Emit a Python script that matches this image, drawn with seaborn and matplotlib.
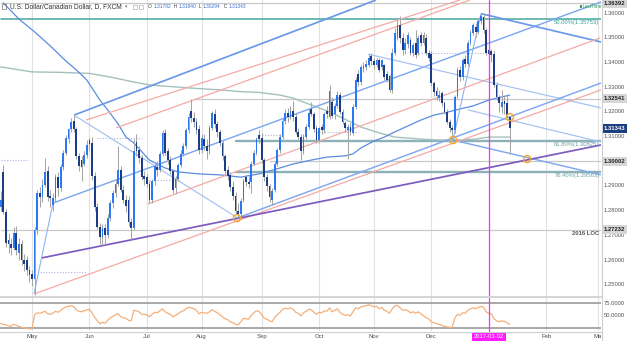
import numpy as np
import pandas as pd
import matplotlib
matplotlib.use("Agg")
import matplotlib.pyplot as plt
import matplotlib.transforms as mtransforms
import seaborn as sns

sns.set_theme(style="white")
plt.rcParams["font.family"] = ["Liberation Sans", "DejaVu Sans"]

symbol_title = "U.S. Dollar/Canadian Dollar, D, FXCM"
first_session = "2016-04-14"

# ---- daily OHLC, one weekday bar each, 2016-04-14 .. 2017-01-12 ----
opens = [
    1.2815, 1.2955, 1.2795, 1.2680, 1.2665, 1.2650, 1.2710, 1.2630, 1.2665, 1.2600,
    1.2600, 1.2560, 1.2545, 1.2525, 1.2720, 1.2870, 1.2855, 1.2905, 1.2960, 1.2860,
    1.2825, 1.2850, 1.2935, 1.2890, 1.2975, 1.3035, 1.3090, 1.3130, 1.3165, 1.3130,
    1.3020, 1.3005, 1.2990, 1.3025, 1.3085, 1.3075, 1.2940, 1.2815, 1.2735, 1.2695,
    1.2730, 1.2700, 1.2770, 1.2830, 1.2870, 1.2910, 1.2965, 1.2885, 1.2845, 1.2845,
    1.2755, 1.2730, 1.3080, 1.3045, 1.3015, 1.2940, 1.2935, 1.2910, 1.2845, 1.2920,
    1.2975, 1.2965, 1.3030, 1.3115, 1.3040, 1.3005, 1.2960, 1.2890, 1.2930, 1.2985,
    1.3030, 1.3060, 1.3125, 1.3205, 1.3175, 1.3160, 1.3130, 1.3045, 1.3090, 1.3060,
    1.3040, 1.3135, 1.3190, 1.3150, 1.3120, 1.3075, 1.3020, 1.2965, 1.2945, 1.2895,
    1.2860, 1.2800, 1.2785, 1.2845, 1.2935, 1.2915, 1.2915, 1.2990, 1.3035, 1.3105,
    1.3095, 1.3005, 1.2935, 1.2900, 1.2845, 1.2885, 1.2990, 1.3045, 1.3100, 1.3165,
    1.3195, 1.3180, 1.3205, 1.3180, 1.3120, 1.3100, 1.3040, 1.3100, 1.3140, 1.3210,
    1.3190, 1.3135, 1.3085, 1.3140, 1.3125, 1.3205, 1.3180, 1.3240, 1.3190, 1.3225,
    1.3270, 1.3200, 1.3155, 1.3125, 1.3140, 1.3115, 1.3220, 1.3355, 1.3320, 1.3375,
    1.3380, 1.3390, 1.3425, 1.3405, 1.3390, 1.3410, 1.3380, 1.3390, 1.3355, 1.3345,
    1.3290, 1.3440, 1.3500, 1.3550, 1.3500, 1.3450, 1.3475, 1.3490, 1.3440, 1.3480,
    1.3440, 1.3510, 1.3480, 1.3500, 1.3440, 1.3435, 1.3315, 1.3285, 1.3255, 1.3275,
    1.3235, 1.3200, 1.3160, 1.3135, 1.3125, 1.3265, 1.3370, 1.3340, 1.3415, 1.3395,
    1.3480, 1.3520, 1.3545, 1.3525, 1.3570, 1.3585, 1.3530, 1.3450, 1.3445, 1.3435,
    1.3310, 1.3260, 1.3220, 1.3245, 1.3235, 1.31782,
]
highs = [
    1.2880, 1.2985, 1.2805, 1.2710, 1.2690, 1.2735, 1.2740, 1.2690, 1.2680, 1.2625,
    1.2615, 1.2575, 1.2560, 1.2735, 1.2885, 1.2895, 1.2930, 1.3015, 1.2980, 1.2885,
    1.2870, 1.2950, 1.2955, 1.2990, 1.3045, 1.3105, 1.3135, 1.3175, 1.3188, 1.3140,
    1.3035, 1.3020, 1.3040, 1.3085, 1.3095, 1.3100, 1.2955, 1.2830, 1.2750, 1.2745,
    1.2745, 1.2785, 1.2845, 1.2885, 1.2925, 1.3060, 1.2980, 1.2905, 1.2865, 1.2860,
    1.2770, 1.3090, 1.3110, 1.3060, 1.3025, 1.2960, 1.2950, 1.2920, 1.2930, 1.2995,
    1.3000, 1.3040, 1.3125, 1.3130, 1.3055, 1.3020, 1.2970, 1.2940, 1.2995, 1.3045,
    1.3075, 1.3135, 1.3195, 1.3252, 1.3200, 1.3175, 1.3145, 1.3110, 1.3110, 1.3090,
    1.3145, 1.3205, 1.3210, 1.3165, 1.3130, 1.3085, 1.3030, 1.2980, 1.2955, 1.2920,
    1.2875, 1.2830, 1.2850, 1.2930, 1.2945, 1.2940, 1.3000, 1.3045, 1.3100, 1.3125,
    1.3115, 1.3015, 1.2950, 1.2910, 1.2890, 1.3000, 1.3055, 1.3110, 1.3175, 1.3210,
    1.3215, 1.3225, 1.3245, 1.3195, 1.3135, 1.3110, 1.3110, 1.3150, 1.3210, 1.3240,
    1.3200, 1.3145, 1.3140, 1.3150, 1.3200, 1.3225, 1.3310, 1.3260, 1.3235, 1.3285,
    1.3280, 1.3210, 1.3165, 1.3150, 1.3155, 1.3230, 1.3340, 1.3370, 1.3390, 1.3400,
    1.3410, 1.3435, 1.3440, 1.3420, 1.3420, 1.3420, 1.3415, 1.3395, 1.3365, 1.3355,
    1.3460, 1.3540, 1.3575, 1.3588, 1.3520, 1.3500, 1.3525, 1.3505, 1.3480, 1.3530,
    1.3510, 1.3525, 1.3525, 1.3515, 1.3450, 1.3445, 1.3325, 1.3300, 1.3290, 1.3285,
    1.3245, 1.3210, 1.3170, 1.3145, 1.3270, 1.3380, 1.3385, 1.3420, 1.3430, 1.3490,
    1.3530, 1.3560, 1.3560, 1.3580, 1.3599, 1.3598, 1.3540, 1.3460, 1.3455, 1.3450,
    1.3320, 1.3270, 1.3290, 1.3265, 1.3270, 1.31840,
]
lows = [
    1.2800, 1.2785, 1.2655, 1.2630, 1.2620, 1.2640, 1.2620, 1.2600, 1.2580, 1.2555,
    1.2540, 1.2510, 1.2495, 1.2460, 1.2705, 1.2815, 1.2835, 1.2895, 1.2840, 1.2815,
    1.2800, 1.2840, 1.2860, 1.2880, 1.2965, 1.3025, 1.3075, 1.3120, 1.3120, 1.3010,
    1.2960, 1.2920, 1.2980, 1.3015, 1.3045, 1.2925, 1.2800, 1.2725, 1.2665, 1.2660,
    1.2660, 1.2690, 1.2760, 1.2810, 1.2855, 1.2900, 1.2875, 1.2830, 1.2795, 1.2740,
    1.2685, 1.2720, 1.3020, 1.2995, 1.2925, 1.2905, 1.2895, 1.2830, 1.2830, 1.2905,
    1.2940, 1.2955, 1.3020, 1.3025, 1.2990, 1.2950, 1.2870, 1.2870, 1.2920, 1.2975,
    1.3020, 1.3050, 1.3115, 1.3160, 1.3140, 1.3110, 1.3030, 1.3035, 1.3045, 1.3010,
    1.3030, 1.3125, 1.3135, 1.3100, 1.3060, 1.3005, 1.2945, 1.2925, 1.2880, 1.2845,
    1.2785, 1.2770, 1.2775, 1.2835, 1.2900, 1.2890, 1.2870, 1.2985, 1.3025, 1.3075,
    1.2995, 1.2920, 1.2880, 1.2835, 1.2823, 1.2875, 1.2980, 1.3035, 1.3090, 1.3150,
    1.3160, 1.3170, 1.3165, 1.3110, 1.3085, 1.3005, 1.3030, 1.3090, 1.3130, 1.3185,
    1.3120, 1.3075, 1.3075, 1.3110, 1.3115, 1.3175, 1.3170, 1.3175, 1.3170, 1.3215,
    1.3190, 1.3150, 1.3120, 1.3010, 1.3105, 1.3105, 1.3210, 1.3305, 1.3310, 1.3360,
    1.3370, 1.3380, 1.3390, 1.3375, 1.3380, 1.3360, 1.3370, 1.3330, 1.3320, 1.3280,
    1.3275, 1.3430, 1.3490, 1.3480, 1.3430, 1.3435, 1.3460, 1.3430, 1.3425, 1.3420,
    1.3430, 1.3465, 1.3470, 1.3430, 1.3405, 1.3305, 1.3265, 1.3250, 1.3245, 1.3225,
    1.3190, 1.3150, 1.3120, 1.3085, 1.3115, 1.3255, 1.3325, 1.3330, 1.3380, 1.3385,
    1.3470, 1.3510, 1.3505, 1.3515, 1.3555, 1.3520, 1.3430, 1.3420, 1.3400, 1.3300,
    1.3250, 1.3200, 1.3195, 1.3190, 1.3175, 1.30294,
]
closes = [
    1.2845, 1.2795, 1.2670, 1.2665, 1.2650, 1.2710, 1.2640, 1.2665, 1.2600, 1.2585,
    1.2560, 1.2540, 1.2525, 1.2720, 1.2870, 1.2855, 1.2905, 1.2955, 1.2855, 1.2850,
    1.2850, 1.2935, 1.2890, 1.2975, 1.3035, 1.3095, 1.3130, 1.3160, 1.3130, 1.3020,
    1.2980, 1.2975, 1.3025, 1.3065, 1.3070, 1.2940, 1.2815, 1.2735, 1.2695, 1.2730,
    1.2700, 1.2770, 1.2830, 1.2870, 1.2910, 1.2965, 1.2885, 1.2845, 1.2820, 1.2755,
    1.2730, 1.3040, 1.3040, 1.3015, 1.2935, 1.2930, 1.2910, 1.2845, 1.2920, 1.2980,
    1.2965, 1.3030, 1.3115, 1.3035, 1.3005, 1.2960, 1.2885, 1.2930, 1.2985, 1.3030,
    1.3060, 1.3125, 1.3180, 1.3175, 1.3160, 1.3125, 1.3045, 1.3095, 1.3060, 1.3040,
    1.3135, 1.3195, 1.3150, 1.3120, 1.3075, 1.3020, 1.2960, 1.2940, 1.2895, 1.2860,
    1.2800, 1.2785, 1.2840, 1.2920, 1.2915, 1.2910, 1.2990, 1.3035, 1.3090, 1.3090,
    1.3005, 1.2935, 1.2900, 1.2855, 1.2880, 1.2990, 1.3045, 1.3100, 1.3165, 1.3195,
    1.3180, 1.3205, 1.3180, 1.3120, 1.3100, 1.3040, 1.3100, 1.3140, 1.3195, 1.3190,
    1.3130, 1.3085, 1.3135, 1.3125, 1.3190, 1.3190, 1.3285, 1.3185, 1.3225, 1.3270,
    1.3200, 1.3160, 1.3135, 1.3140, 1.3120, 1.3220, 1.3330, 1.3320, 1.3380, 1.3385,
    1.3395, 1.3420, 1.3405, 1.3390, 1.3410, 1.3370, 1.3410, 1.3340, 1.3330, 1.3290,
    1.3440, 1.3520, 1.3550, 1.3500, 1.3450, 1.3480, 1.3510, 1.3440, 1.3470, 1.3430,
    1.3500, 1.3480, 1.3510, 1.3440, 1.3420, 1.3315, 1.3280, 1.3265, 1.3270, 1.3235,
    1.3200, 1.3160, 1.3135, 1.3125, 1.3260, 1.3370, 1.3340, 1.3410, 1.3395, 1.3480,
    1.3520, 1.3550, 1.3525, 1.3570, 1.3590, 1.3530, 1.3440, 1.3435, 1.3430, 1.3310,
    1.3260, 1.3235, 1.3240, 1.3230, 1.3187, 1.31343,
]
rsi_values = [
    35, 33, 32, 30, 29, 33, 31, 29, 27, 26,
    25, 24, 24, 52, 56, 55, 57, 59, 54, 53,
    55, 59, 57, 61, 65, 68, 69, 70, 68, 62,
    59, 58, 60, 62, 63, 56, 47, 40, 34, 37,
    35, 41, 46, 49, 52, 54, 48, 46, 45, 41,
    40, 61, 60, 58, 53, 53, 52, 48, 53, 57,
    56, 60, 64, 58, 55, 53, 48, 51, 54, 58,
    60, 64, 67, 66, 64, 61, 54, 57, 56, 55,
    58, 62, 59, 56, 52, 48, 44, 42, 38, 36,
    33, 32, 38, 45, 44, 43, 51, 56, 60, 59,
    52, 45, 43, 40, 38, 47, 52, 57, 63, 65,
    64, 66, 63, 57, 55, 50, 56, 59, 63, 62,
    57, 53, 57, 56, 60, 59, 66, 58, 61, 64,
    57, 53, 51, 52, 50, 58, 66, 64, 68, 69,
    70, 72, 70, 68, 69, 64, 67, 61, 59, 55,
    64, 70, 71, 66, 61, 62, 60, 56, 58, 55,
    58, 54, 50, 46, 44, 38, 36, 34, 33, 31,
    29, 28, 27, 27, 45, 53, 51, 56, 55, 61,
    64, 66, 64, 67, 69, 67, 58, 55, 54, 44,
    40, 38, 40, 39, 36, 33,
]

# moving averages read at selected bars (bar number, price)
sma100_bars = [1, 7, 13, 19, 25, 29, 33, 38, 41, 45, 48, 51, 57, 63, 68, 76, 84, 92,
               99, 107, 112, 119, 125, 132, 135, 138, 143, 147, 151, 156, 161, 166,
               170, 176, 181, 187, 195]
sma100_vals = [1.3641, 1.3576, 1.3524, 1.3467, 1.3406, 1.3370, 1.3329, 1.3248, 1.3208,
               1.3151, 1.3098, 1.3074, 1.3005, 1.2973, 1.2957, 1.2949, 1.2945, 1.2936,
               1.2949, 1.2973, 1.2989, 1.3005, 1.3017, 1.3022, 1.3030, 1.3054, 1.3082,
               1.3098, 1.3119, 1.3143, 1.3167, 1.3187, 1.3196, 1.3212, 1.3224, 1.3248,
               1.3268]
sma200_bars = [0, 12, 23, 34, 42, 51, 57, 67, 75, 84, 92, 99, 107, 112, 119, 125, 131,
               138, 145, 151, 161, 168, 175, 182, 187, 195]
sma200_vals = [1.3382, 1.3362, 1.3360, 1.3356, 1.3341, 1.3321, 1.3309, 1.3301, 1.3295,
               1.3289, 1.3282, 1.3279, 1.3268, 1.3256, 1.3228, 1.3204, 1.3175, 1.3139,
               1.3115, 1.3098, 1.3090, 1.3086, 1.3086, 1.3090, 1.3098, 1.3098]

# drawn trend lines: (bar0, price0, bar1, price1, style)
trend_lines = [
    (28.1, 1.3187, 143.8, 1.3653, "blue"),
    (20.05, 1.2831, 230.0, 1.3645, "blue2"),
    (12.77, 1.2463, 20.05, 1.2831, "thin"),
    (28.1, 1.3187, 90.9, 1.2770, "light"),
    (184.0, 1.3598, 230.0, 1.3483, "blue"),
    (140.7, 1.3434, 230.0, 1.3216, "light"),
    (173.3, 1.3086, 230.0, 1.2945, "blue2"),
    (179.0, 1.3208, 230.0, 1.3078, "light"),
    (90.5, 1.2770, 230.0, 1.3317, "blue2"),
    (173.3, 1.3086, 184.0, 1.3598, "thin"),
    (12.77, 1.2463, 230.0, 1.3289, "pink"),
    (32.7, 1.3167, 176.0, 1.3653, "pink"),
    (44.2, 1.3135, 179.8, 1.3653, "pink"),
    (56.4, 1.2827, 229.6, 1.3499, "pink"),
    (15.8, 1.2609, 230.0, 1.3066, "purple"),
]
line_styles = {
    "blue": ("#6a9ae8", 1.25), "blue2": ("#7ea8ef", 1.05), "light": ("#a7c3f2", 0.9),
    "thin": ("#8fb3f0", 0.8), "pink": ("#f4aaa5", 0.9), "purple": ("#7d5bbf", 1.25),
}

# pivot marks (dotted)
pivot_marks = [(0, 11, 1.3005), (15, 33, 1.2552), (37, 54, 1.3094), (57, 67, 1.2924),
               (99, 107, 1.3107), (121, 137, 1.3119), (158, 187, 1.3439)]

fib_names = ["50.00%", "61.80%", "76.40%"]
fib_prices = [1.35753, 1.30825, 1.29563]
fib_start = [0, 90.2, 90.2]
level_prices = [1.36392, 1.32541, 1.30002, 1.27232]
level_start = [0, 74.0, 103.0, 0]
loc_label = "2016 LOC"
touch_bars = [90.5, 173.3, 195.1, 201.7]
touch_prices = [1.2770, 1.3086, 1.3179, 1.3009]

W, H = 627, 341
fig = plt.figure(figsize=(W / 100, H / 100), dpi=100)
fig.patch.set_facecolor("white")


def fx(px):
    return px / W


def fy(py):
    return 1 - py / H


plot_w = 601 / W
ax = fig.add_axes([0, fy(295.5), plot_w, 295.5 / H])
ax2 = fig.add_axes([0, fy(331), plot_w, 33.3 / H])
ax3 = fig.add_axes([0, 0, plot_w, 10 / H])
XLIM = (-0.26, 230.0)
for a in (ax, ax2, ax3):
    a.set_xlim(*XLIM)
    a.set_axis_off()
ax.set_ylim(1.24567, 1.36530)
ax2.set_ylim(19.6, 86.2)
ax3.set_ylim(0, 1)

n = len(closes)
assert len(opens) == len(highs) == len(lows) == n == len(rsi_values)
bars = np.arange(n)
dates = pd.bdate_range(first_session, periods=240)
month_pos = [k for k in range(1, 231) if dates[k].month != dates[k - 1].month]
mark_day = [k for k in month_pos if dates[k].month == 1][0]

# month grid
for k in month_pos:
    if k == mark_day:
        continue
    ax.axvline(k, color="#e2e2e2", lw=0.8, zorder=0)
    ax2.axvline(k, color="#e2e2e2", lw=0.8, zorder=0)

# horizontal levels
for p, s in zip(level_prices, level_start):
    ax.plot([s, 230], [p, p], color="#c8c8c8", lw=0.9, zorder=1)
ax.plot([fib_start[0], 230], [fib_prices[0]] * 2, color="#44a89f", lw=1.1, zorder=2)
for p, s in zip(fib_prices[1:], fib_start[1:]):
    ax.plot([s, 230], [p, p], color="#8eb1b7", lw=1.7, zorder=2)

for b0, b1, p in pivot_marks:
    ax.plot([b0, b1], [p, p], color="#b7abdd", lw=0.8, ls=(0, (1, 1.5)), zorder=1)

# moving averages
sns.lineplot(x=sma200_bars, y=sma200_vals, ax=ax, color="#a3c1bc", lw=1.0,
             errorbar=None, legend=False, zorder=2)
sns.lineplot(x=sma100_bars, y=sma100_vals, ax=ax, color="#5a8ce0", lw=0.9,
             errorbar=None, legend=False, zorder=2)

# trend lines
for b0, p0, b1, p1, st in trend_lines:
    col, lw = line_styles[st]
    ax.plot([b0, b1], [p0, p1], color=col, lw=lw, zorder=2, solid_capstyle="butt")

# candles
o = np.array(opens); h = np.array(highs); l = np.array(lows); c = np.array(closes)
up = c >= o
body_lo = np.minimum(o, c)
body_h = np.maximum(np.abs(c - o), 0.0002)
ax.vlines(bars, l, h, color="#a6a6a6", lw=0.75, zorder=3)
ax.bar(bars[up], body_h[up], bottom=body_lo[up], width=0.68, color="#2a79f2",
       linewidth=0, zorder=4)
ax.bar(bars[~up], body_h[~up], bottom=body_lo[~up], width=0.68, color="#1c3c85",
       linewidth=0, zorder=4)

ax.scatter(touch_bars, touch_prices, s=26, facecolors="none", edgecolors="#f5a629",
           linewidths=1.0, zorder=6)

# vertical marker on first session of the year
for a in (ax, ax2, ax3):
    a.axvline(mark_day, color="#ff2bff", lw=0.9, zorder=5)

# fib / level labels
lab_kw = dict(ha="right", va="top", fontsize=4.2, zorder=7)
ax.text(229.4, fib_prices[0] - 0.0003, f"{fib_names[0]}({fib_prices[0]:.5f})",
        color="#3aa197", **lab_kw)
for nm, p in zip(fib_names[1:], fib_prices[1:]):
    ax.text(229.4, p - 0.0003, f"{nm}({p:.5f})", color="#6f9da4", **lab_kw)
ax.text(229.4, level_prices[3] - 0.0004, loc_label, color="#555555",
        fontweight="bold", **lab_kw)

# RSI panel
sns.lineplot(x=bars, y=rsi_values, ax=ax2, color="#f4b07a", lw=0.9,
             errorbar=None, legend=False, zorder=3)
for v in (75, 25):
    ax2.axhline(v, color="#9b9b9b", lw=1.2, zorder=2)

# price scale
tr = mtransforms.blended_transform_factory(fig.transFigure, ax.transData)
tr2 = mtransforms.blended_transform_factory(fig.transFigure, ax2.transData)
for p in np.arange(1.25, 1.3651, 0.01):
    if abs(p - 1.30) < 1e-6:
        continue
    ax.text(fx(604), p, f"{p:.5f}", transform=tr, fontsize=4.2, color="#555555",
            va="center", ha="left", clip_on=False)
for p in level_prices:
    ax.text(fx(604), p, f"{p:.5f}", transform=tr, fontsize=4.2, color="#222222",
            fontweight="bold", va="center", ha="left", clip_on=False, zorder=8,
            bbox=dict(boxstyle="square,pad=0.35", fc="#d6d6d6", ec="none"))
ax.text(fx(604), closes[-1], f"{closes[-1]:.5f}", transform=tr, fontsize=4.2,
        color="white", fontweight="bold", va="center", ha="left", clip_on=False,
        zorder=8, bbox=dict(boxstyle="square,pad=0.35", fc="#1d3e7e", ec="none"))
for v in (75, 50):
    ax2.text(fx(604), v, f"{v:.4f}", transform=tr2, fontsize=4.2, color="#555555",
             va="center", ha="left", clip_on=False)

# time scale
for k in month_pos:
    if k == mark_day:
        ax3.text(k, 0.42, dates[k].strftime("%Y-%m-%d"), ha="center", va="center",
                 fontsize=4.2, color="white", zorder=8,
                 bbox=dict(boxstyle="square,pad=0.3", fc="#ff1aff", ec="none"))
    else:
        ax3.text(k, 0.42, dates[k].strftime("%b"), ha="center", va="center",
                 fontsize=4.3, color="#4d4d4d", clip_on=True)

# frame lines
fig.add_artist(plt.Line2D([0, plot_w], [fy(296.6)] * 2, color="#d5d5d5", lw=1.4))
fig.add_artist(plt.Line2D([0, plot_w], [fy(331.5)] * 2, color="#cfcfcf", lw=0.8))
fig.add_artist(plt.Line2D([fx(601.5)] * 2, [0, 1], color="#cfcfcf", lw=0.8))

# header
fig.text(fx(10), fy(6.5), symbol_title, fontsize=4.8, color="#333333", va="center")
fig.text(fx(124.5), fy(6.5), "\u25be", fontsize=3.5, color="#777777", va="center",
         family=["DejaVu Sans"])
for px0 in (133, 139):
    fig.add_artist(plt.Rectangle((fx(px0), fy(9)), 4 / W, 4.5 / H, fill=False,
                                 ec="#b5b5b5", lw=0.5))
fig.add_artist(plt.Rectangle((fx(2), fy(9)), 4 / W, 5 / H, fill=False,
                             ec="#777777", lw=0.5))
pieces = [("O ", "#444444"), (f"{opens[-1]:.5f}", "#3f6fce"), ("  H ", "#444444"),
          (f"{highs[-1]:.5f}", "#3f6fce"), ("  L ", "#444444"),
          (f"{lows[-1]:.5f}", "#3f6fce"), ("  C ", "#444444"),
          (f"{closes[-1]:.5f}", "#3f6fce")]
prev = fig.text(fx(148), fy(8.5), pieces[0][0], fontsize=3.5, color=pieces[0][1],
                va="bottom")
for s, col in pieces[1:]:
    prev = ax.annotate(s, xy=(1, 0), xycoords=prev, xytext=(0, 0),
                       textcoords="offset points", fontsize=3.5, color=col,
                       va="bottom", ha="left", annotation_clip=False)

fig.add_artist(plt.Rectangle((fx(579.5), fy(7.5)), 2.2 / W, 2.2 / H,
                             color="#2e9b55", lw=0))
fig.text(fx(583), fy(6.3), "LastTime", fontsize=3.3, color="#2e9b55", va="center")

fig.savefig("out.png", dpi=100, facecolor="white")
